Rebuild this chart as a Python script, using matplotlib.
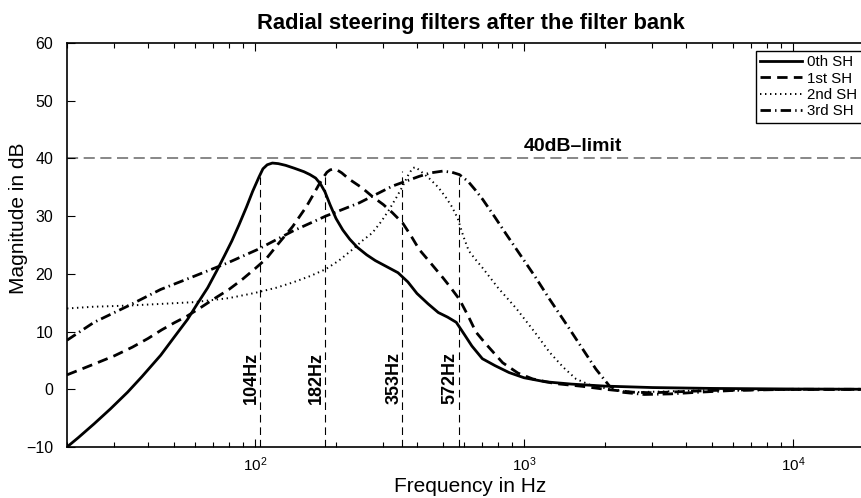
import numpy as np
import matplotlib
matplotlib.use("Agg")
import matplotlib.pyplot as plt

plt.rcParams['font.family'] = ['Liberation Sans', 'DejaVu Sans']
plt.rcParams['mathtext.fontset'] = 'custom'
plt.rcParams['mathtext.rm'] = 'Liberation Sans'
plt.rcParams['mathtext.it'] = 'Liberation Sans:italic'
plt.rcParams['lines.scale_dashes'] = False

# 0th SH (solid)
f0 = [20, 22, 25.2, 29, 33.6, 38, 44.6, 50, 56.1, 61, 66.7, 72, 76.9, 82, 87.2, 93, 98, 103.5,
      107, 111, 116, 122, 130, 140, 152, 160, 168, 175, 182, 190, 200, 212, 225, 240, 260, 280,
      310, 340, 370, 400, 440, 480, 520, 560, 600, 640, 700, 780, 880, 1000, 1200, 1500, 2000,
      3000, 5000, 10000, 20000]
db0 = [-10, -8.4, -6.0, -3.4, -0.5, 2.2, 5.9, 9.0, 12.1, 14.8, 17.6, 20.5, 23.1, 25.7, 28.5,
       31.6, 34.3, 36.8, 38.2, 38.9, 39.2, 39.1, 38.8, 38.3, 37.7, 37.2, 36.6, 35.6, 34.2, 32.0,
       29.6, 27.6, 26.0, 24.6, 23.3, 22.3, 21.2, 20.2, 18.6, 16.6, 14.8, 13.3, 12.5, 11.6, 9.5,
       7.5, 5.3, 4.1, 2.9, 2.0, 1.3, 0.9, 0.55, 0.3, 0.15, 0.05, 0]

# 1st SH (dashed)
f1 = [20, 25, 30, 35, 40, 45, 50, 56, 63, 70, 80, 90, 100, 110, 122, 138, 155, 165, 173, 180,
      185, 190, 196, 202, 210, 224, 250, 273, 300, 324, 354, 380, 408, 440, 470, 500, 528, 575,
      620, 663, 720, 833, 950, 1076, 1300, 1656, 2000, 2540, 3000, 3890, 5000, 8000, 20000]
db1 = [2.5, 4.3, 5.8, 7.3, 8.8, 10.3, 11.5, 12.7, 14.2, 15.6, 17.3, 19.1, 20.9, 22.6, 25.2,
       28.2, 31.6, 33.8, 35.5, 36.8, 37.6, 38.0, 38.2, 38.0, 37.5, 36.4, 34.9, 33.4, 32.0, 30.6,
       28.8, 26.6, 24.2, 22.4, 20.8, 19.3, 17.9, 15.6, 12.7, 9.9, 7.9, 4.6, 2.8, 1.8, 1.0, 0.5,
       0.0, -0.5, -0.6, -0.4, -0.2, -0.05, 0]

# 2nd SH (dotted)
f2 = [20, 25, 33.6, 45, 59.5, 80, 100, 120, 138, 160, 183, 205, 230, 250, 273, 295, 315, 335,
      354, 370, 385, 395, 410, 443, 480, 513, 540, 567, 595, 623, 660, 702, 800, 936, 1100,
      1245, 1400, 1560, 1750, 1950, 2200, 2540, 3200, 4500, 8000, 20000]
db2 = [14.0, 14.3, 14.5, 14.8, 15.1, 15.8, 16.7, 17.6, 18.5, 19.6, 20.8, 22.3, 24.2, 25.7, 27.1,
       29.1, 31.1, 33.2, 35.2, 37.0, 38.3, 38.5, 37.9, 36.6, 35.0, 33.2, 31.6, 29.6, 26.5, 24.0,
       22.5, 21.0, 17.6, 14.0, 9.8, 6.4, 3.8, 1.8, 0.8, 0.3, -0.2, -0.5, -0.4, -0.2, -0.05, 0]

# 3rd SH (dash-dot)
f3 = [20, 25.2, 33.6, 44.6, 59.5, 79.1, 102, 138, 183, 244, 324, 408, 450, 498, 540, 575, 620,
      660, 702, 780, 855, 936, 1100, 1245, 1450, 1656, 1850, 2075, 2300, 2800, 3500, 4500, 6000,
      10000, 20000]
db3 = [8.5, 11.6, 14.4, 17.3, 19.6, 21.9, 24.2, 27.4, 30.0, 32.3, 35.2, 36.9, 37.5, 37.8, 37.6,
       37.2, 36.0, 34.5, 32.9, 29.8, 27.0, 24.3, 19.5, 15.6, 11.0, 6.9, 3.5, 0.6, -0.5, -0.9,
       -0.8, -0.5, -0.2, 0, 0]

cut_freqs = [104, 182, 353, 572]
cut_top_db = [37.2, 37.3, 37.8, 37.5]
cut_labels = ['104Hz', '182Hz', '353Hz', '572Hz']
limit_db = 40

fig = plt.figure(figsize=(8.62, 4.98), dpi=100)
ax = fig.add_axes([67/862, 1 - 447/498, 807/862, 404/498])

ax.axhline(limit_db, color='0.45', lw=1.2, dashes=(8, 4), zorder=1)
ax.text(1000, limit_db + 0.6, '40dB\u2013limit', fontsize=14, fontweight='bold',
        ha='left', va='bottom')

for fc, top, lab in zip(cut_freqs, cut_top_db, cut_labels):
    ax.plot([fc, fc], [-10, top], color='k', lw=0.8, dashes=(5.5, 3.5), zorder=1)
    ax.text(fc, -2.5, lab, rotation=90, fontsize=13, fontweight='bold',
            ha='right', va='bottom')

ax.plot(f0, db0, color='k', lw=2, label='0th SH')
ax.plot(f1, db1, color='k', lw=2, dashes=(7.5, 4.5), label='1st SH')
ax.plot(f2, db2, color='k', lw=1.4, dashes=(1, 2.6), label='2nd SH')
ax.plot(f3, db3, color='k', lw=2, dashes=(7.5, 3, 1, 3), label='3rd SH')

ax.set_xscale('log')
ax.set_xlim(20, 20000)
ax.set_ylim(-10, 60)
ax.set_yticks(np.arange(-10, 61, 10))
ax.tick_params(which='both', direction='in', top=True, right=True)
ax.tick_params(which='major', length=6, width=0.8)
ax.tick_params(which='minor', length=3.5, width=0.8)
ax.tick_params(axis='y', labelsize=11.5, pad=10)
ax.tick_params(axis='x', labelsize=11, pad=6)
for s in ax.spines.values():
    s.set_linewidth(1.2)

ax.set_xlabel('Frequency in Hz', fontsize=15, labelpad=2)
ax.set_ylabel('Magnitude in dB', fontsize=15)
ax.yaxis.set_label_coords(-0.048, 0.565)
ax.set_title('Radial steering filters after the filter bank', fontsize=15.8,
             fontweight='bold', pad=10)

leg = ax.legend(loc='upper left', bbox_to_anchor=(756/862, 1 - 51/498),
                bbox_transform=fig.transFigure, fontsize=10.8, frameon=True, fancybox=False,
                framealpha=1, edgecolor='k', handlelength=2.75, handletextpad=0.35,
                labelspacing=0.15, borderpad=0.3, borderaxespad=0)
leg.get_frame().set_linewidth(1.0)

fig.savefig('out.png', dpi=100)
